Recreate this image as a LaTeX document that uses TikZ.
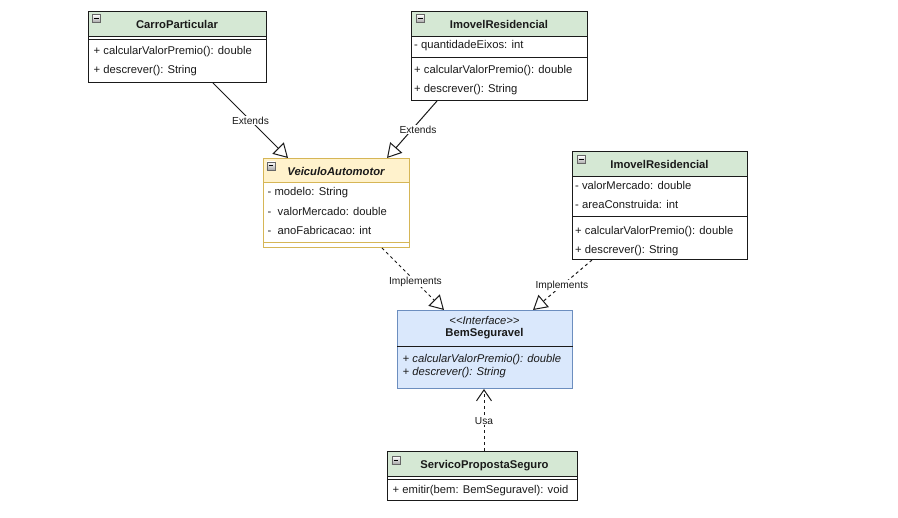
\documentclass[tikz,border=0pt]{standalone}
\usepackage{fontspec}
\setmainfont{Liberation Sans}
\usetikzlibrary{arrows.meta,calc}

\definecolor{ink}{HTML}{1A1A1A}
\definecolor{hdrgreen}{HTML}{D5E8D4}
\definecolor{hdryellow}{HTML}{FFF2CC}
\definecolor{edgeyellow}{HTML}{D6B656}
\definecolor{ifblue}{HTML}{DAE8FC}
\definecolor{edgeblue}{HTML}{6C8EBF}

\tikzset{
  classbox/.style={draw=#1, line width=1pt, fill=white, inner sep=0pt, anchor=north west},
  header/.style 2 args={path picture={\fill[#1] (path picture bounding box.north west) rectangle ([yshift=-#2]path picture bounding box.north east);}},
  sepline/.style={draw=#1, line width=1pt},
  title/.style={font=\fontsize{11.25}{13}\selectfont\bfseries, text=ink, inner sep=0pt},
  member/.style={font=\fontsize{11.25}{13}\selectfont, text=ink, inner sep=0pt, anchor=west},
  collapser/.style={draw=black!60, line width=0.6pt, minimum size=8pt, inner sep=0pt,
    top color=white, bottom color=black!35,
    path picture={\draw[black, line width=1pt] ([xshift=1.8pt]path picture bounding box.west) -- ([xshift=-1.8pt]path picture bounding box.east);}},
  edgelabel/.style={font=\fontsize{10.2}{12}\selectfont, text=ink, fill=white, inner sep=1pt},
  extends/.style={draw=ink, line width=1pt, -{Triangle[open, length=14pt, width=16pt, fill=white]}},
  implements/.style={extends, dash pattern=on 3pt off 3pt},
  uses/.style={draw=ink, line width=1pt, dash pattern=on 3pt off 3pt, -{Straight Barb[length=11pt, width=15pt]}}
}

\begin{document}
\begin{tikzpicture}[x=1pt, y=-1pt]
  \fill[white] (0,0) rectangle (898,518);
  \useasboundingbox (0,0) rectangle (898,518);

  % CarroParticular
  \node[classbox=ink, header={hdrgreen}{26pt}, minimum width=178pt, minimum height=71pt] (carro) at (88,11) {};
  \draw[sepline=ink] ([yshift=-26pt]carro.north west) -- ([yshift=-26pt]carro.north east);
  \draw[sepline=ink] ([yshift=-28.5pt]carro.north west) -- ([yshift=-28.5pt]carro.north east);
  \node[collapser] (carroIcon) at (96.5,18.5) {};
  \node[title] (carroName) at (177,24) {CarroParticular};
  \node[member] (carroM1) at (93.5,52) {+ calcularValorPremio(): double};
  \node[member] (carroM2) at (93.5,71) {+ descrever(): String};

  % ImovelResidencial (upper)
  \node[classbox=ink, header={hdrgreen}{26pt}, minimum width=176pt, minimum height=89pt] (imovelA) at (411,11) {};
  \draw[sepline=ink] ([yshift=-26pt]imovelA.north west) -- ([yshift=-26pt]imovelA.north east);
  \draw[sepline=ink] ([yshift=-47pt]imovelA.north west) -- ([yshift=-47pt]imovelA.north east);
  \node[collapser] (imovelAIcon) at (420.3,18.5) {};
  \node[title] (imovelAName) at (499,24) {ImovelResidencial};
  \node[member] (imovelAA1) at (414,45.5) {- quantidadeEixos: int};
  \node[member] (imovelAM1) at (414,71) {+ calcularValorPremio(): double};
  \node[member] (imovelAM2) at (414,90) {+ descrever(): String};

  % VeiculoAutomotor
  \node[classbox=edgeyellow, header={hdryellow}{25pt}, minimum width=146pt, minimum height=89pt] (veiculo) at (263,158) {};
  \draw[sepline=edgeyellow] ([yshift=-25pt]veiculo.north west) -- ([yshift=-25pt]veiculo.north east);
  \draw[sepline=edgeyellow] ([yshift=-85pt]veiculo.north west) -- ([yshift=-85pt]veiculo.north east);
  \node[collapser] (veiculoIcon) at (270.8,166) {};
  \node[title, font=\fontsize{11.25}{13}\selectfont\bfseries\itshape] (veiculoName) at (336,171.5) {VeiculoAutomotor};
  \node[member] (veiculoA1) at (267.5,192.5) {- modelo: String};
  \node[member] (veiculoA2) at (267.5,211.5) {-\ \ valorMercado: double};
  \node[member] (veiculoA3) at (267.5,230) {-\ \ anoFabricacao: int};

  % ImovelResidencial (right)
  \node[classbox=ink, header={hdrgreen}{26pt}, minimum width=175pt, minimum height=108pt] (imovelB) at (572,151) {};
  \draw[sepline=ink] ([yshift=-26pt]imovelB.north west) -- ([yshift=-26pt]imovelB.north east);
  \draw[sepline=ink] ([yshift=-66pt]imovelB.north west) -- ([yshift=-66pt]imovelB.north east);
  \node[collapser] (imovelBIcon) at (581.3,159.7) {};
  \node[title] (imovelBName) at (659.5,164) {ImovelResidencial};
  \node[member] (imovelBA1) at (575,185.5) {- valorMercado: double};
  \node[member] (imovelBA2) at (575,204.5) {- areaConstruida: int};
  \node[member] (imovelBM1) at (575,231.5) {+ calcularValorPremio(): double};
  \node[member] (imovelBM2) at (575,250.5) {+ descrever(): String};

  % BemSeguravel interface
  \node[classbox=edgeblue, fill=ifblue, minimum width=175pt, minimum height=78pt] (bem) at (397,310) {};
  \draw[sepline=ink] ([yshift=-37pt]bem.north west) -- ([yshift=-37pt]bem.north east);
  \node[member, anchor=center, font=\fontsize{11.25}{13}\selectfont\itshape] (bemStereo) at (484.5,320) {<{}<Interface>{}>};
  \node[title] (bemName) at (484.5,333.5) {BemSeguravel};
  \node[member, font=\fontsize{11.25}{13}\selectfont\itshape] (bemM1) at (402.5,360) {+ calcularValorPremio(): double};
  \node[member, font=\fontsize{11.25}{13}\selectfont\itshape] (bemM2) at (402.5,372.5) {+ descrever(): String};

  % ServicoPropostaSeguro
  \node[classbox=ink, header={hdrgreen}{26pt}, minimum width=190pt, minimum height=49pt] (servico) at (387,451) {};
  \draw[sepline=ink] ([yshift=-26pt]servico.north west) -- ([yshift=-26pt]servico.north east);
  \draw[sepline=ink] ([yshift=-28.5pt]servico.north west) -- ([yshift=-28.5pt]servico.north east);
  \node[collapser] (servicoIcon) at (395.8,460.3) {};
  \node[title] (servicoName) at (484.5,465.5) {ServicoPropostaSeguro};
  \node[member] (servicoM1) at (392.5,491) {+ emitir(bem: BemSeguravel): void};

  % Relations
  \draw[extends] ($(carro.south west)+(125,0)$) -- node[edgelabel, pos=0.5] {Extends} ($(veiculo.north west)+(25,0)$);
  \draw[extends] ($(imovelA.south west)+(26,0)$) -- node[edgelabel, pos=0.5, xshift=6pt] {Extends} ($(veiculo.north west)+(124,0)$);
  \draw[implements] ($(veiculo.south west)+(119,0)$) -- node[edgelabel, pos=0.54] {Implements} ($(bem.north west)+(47,0)$);
  \draw[implements] ($(imovelB.south west)+(20,0)$) -- node[edgelabel, pos=0.51] {Implements} ($(bem.north west)+(136,0)$);
  \draw[uses] ($(servico.north west)+(97,0)$) -- node[edgelabel, pos=0.49] {Usa} ($(bem.south west)+(87,0)$);
\end{tikzpicture}
\end{document}
